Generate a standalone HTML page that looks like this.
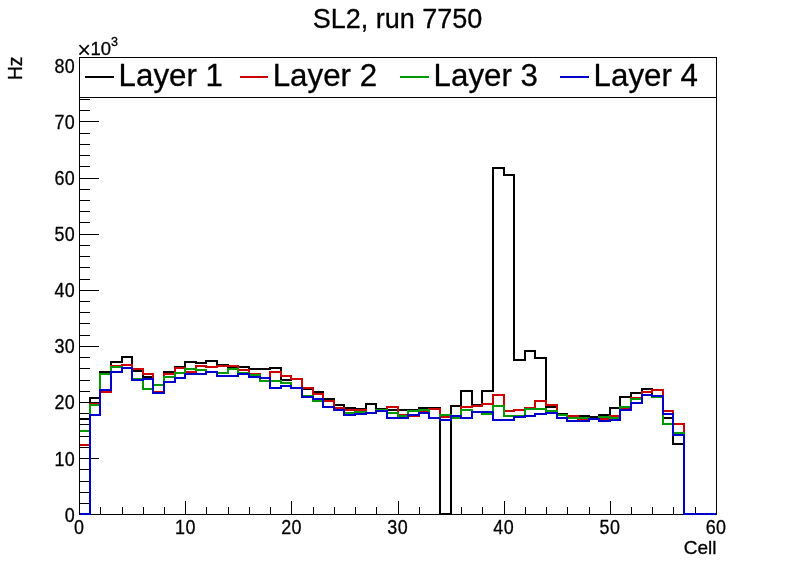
<!DOCTYPE html>
<html><head><meta charset="utf-8"><title>SL2, run 7750</title>
<style>
html,body{margin:0;padding:0;background:#fff;}
svg{display:block;font-family:"Liberation Sans",sans-serif;fill:#000;}
text{stroke:#000;stroke-width:0.3px;}
</style></head>
<body>
<svg width="796" height="572" viewBox="0 0 796 572">
<rect x="0" y="0" width="796" height="572" fill="#ffffff"/>
<g shape-rendering="crispEdges" stroke="#000" stroke-width="1">
<line x1="79" y1="514.5" x2="717" y2="514.5"/>
<line x1="80" y1="514.5" x2="99" y2="514.5"/>
<line x1="80" y1="503.5" x2="90" y2="503.5"/>
<line x1="80" y1="492.5" x2="90" y2="492.5"/>
<line x1="80" y1="481.5" x2="90" y2="481.5"/>
<line x1="80" y1="469.5" x2="90" y2="469.5"/>
<line x1="80" y1="458.5" x2="99" y2="458.5"/>
<line x1="80" y1="447.5" x2="90" y2="447.5"/>
<line x1="80" y1="436.5" x2="90" y2="436.5"/>
<line x1="80" y1="424.5" x2="90" y2="424.5"/>
<line x1="80" y1="413.5" x2="90" y2="413.5"/>
<line x1="80" y1="402.5" x2="99" y2="402.5"/>
<line x1="80" y1="391.5" x2="90" y2="391.5"/>
<line x1="80" y1="380.5" x2="90" y2="380.5"/>
<line x1="80" y1="368.5" x2="90" y2="368.5"/>
<line x1="80" y1="357.5" x2="90" y2="357.5"/>
<line x1="80" y1="346.5" x2="99" y2="346.5"/>
<line x1="80" y1="335.5" x2="90" y2="335.5"/>
<line x1="80" y1="323.5" x2="90" y2="323.5"/>
<line x1="80" y1="312.5" x2="90" y2="312.5"/>
<line x1="80" y1="301.5" x2="90" y2="301.5"/>
<line x1="80" y1="290.5" x2="99" y2="290.5"/>
<line x1="80" y1="279.5" x2="90" y2="279.5"/>
<line x1="80" y1="267.5" x2="90" y2="267.5"/>
<line x1="80" y1="256.5" x2="90" y2="256.5"/>
<line x1="80" y1="245.5" x2="90" y2="245.5"/>
<line x1="80" y1="234.5" x2="99" y2="234.5"/>
<line x1="80" y1="222.5" x2="90" y2="222.5"/>
<line x1="80" y1="211.5" x2="90" y2="211.5"/>
<line x1="80" y1="200.5" x2="90" y2="200.5"/>
<line x1="80" y1="189.5" x2="90" y2="189.5"/>
<line x1="80" y1="178.5" x2="99" y2="178.5"/>
<line x1="80" y1="166.5" x2="90" y2="166.5"/>
<line x1="80" y1="155.5" x2="90" y2="155.5"/>
<line x1="80" y1="144.5" x2="90" y2="144.5"/>
<line x1="80" y1="133.5" x2="90" y2="133.5"/>
<line x1="80" y1="121.5" x2="99" y2="121.5"/>
<line x1="80" y1="110.5" x2="90" y2="110.5"/>
<line x1="80" y1="99.5" x2="90" y2="99.5"/>
<line x1="80" y1="88.5" x2="90" y2="88.5"/>
<line x1="80" y1="77.5" x2="90" y2="77.5"/>
<line x1="80" y1="65.5" x2="99" y2="65.5"/>
<line x1="79.5" y1="514" x2="79.5" y2="501"/>
<line x1="100.5" y1="514" x2="100.5" y2="507"/>
<line x1="122.5" y1="514" x2="122.5" y2="507"/>
<line x1="143.5" y1="514" x2="143.5" y2="507"/>
<line x1="164.5" y1="514" x2="164.5" y2="507"/>
<line x1="185.5" y1="514" x2="185.5" y2="501"/>
<line x1="206.5" y1="514" x2="206.5" y2="507"/>
<line x1="228.5" y1="514" x2="228.5" y2="507"/>
<line x1="249.5" y1="514" x2="249.5" y2="507"/>
<line x1="270.5" y1="514" x2="270.5" y2="507"/>
<line x1="291.5" y1="514" x2="291.5" y2="501"/>
<line x1="313.5" y1="514" x2="313.5" y2="507"/>
<line x1="334.5" y1="514" x2="334.5" y2="507"/>
<line x1="355.5" y1="514" x2="355.5" y2="507"/>
<line x1="376.5" y1="514" x2="376.5" y2="507"/>
<line x1="398.5" y1="514" x2="398.5" y2="501"/>
<line x1="419.5" y1="514" x2="419.5" y2="507"/>
<line x1="440.5" y1="514" x2="440.5" y2="507"/>
<line x1="461.5" y1="514" x2="461.5" y2="507"/>
<line x1="482.5" y1="514" x2="482.5" y2="507"/>
<line x1="504.5" y1="514" x2="504.5" y2="501"/>
<line x1="525.5" y1="514" x2="525.5" y2="507"/>
<line x1="546.5" y1="514" x2="546.5" y2="507"/>
<line x1="567.5" y1="514" x2="567.5" y2="507"/>
<line x1="589.5" y1="514" x2="589.5" y2="507"/>
<line x1="610.5" y1="514" x2="610.5" y2="501"/>
<line x1="631.5" y1="514" x2="631.5" y2="507"/>
<line x1="652.5" y1="514" x2="652.5" y2="507"/>
<line x1="673.5" y1="514" x2="673.5" y2="507"/>
<line x1="695.5" y1="514" x2="695.5" y2="507"/>
<line x1="716.5" y1="514" x2="716.5" y2="501"/>
</g>
<g shape-rendering="crispEdges">
<polyline points="79,419 90,419 90,398 100,398 100,372 111,372 111,362 122,362 122,357 132,357 132,371 143,371 143,377 153,377 153,392 164,392 164,372 175,372 175,367 185,367 185,362 196,362 196,363 206,363 206,361 217,361 217,365 228,365 228,367 238,367 238,367 249,367 249,369 260,369 260,369 270,369 270,368 281,368 281,380 291,380 291,379 302,379 302,389 313,389 313,392 323,392 323,399 334,399 334,405 344,405 344,408 355,408 355,409 366,409 366,404 376,404 376,409 387,409 387,410 398,410 398,410 408,410 408,410 419,410 419,408 429,408 429,408 440,408 440,514 451,514 451,406 461,406 461,391 472,391 472,405 482,405 482,391 493,391 493,168 504,168 504,175 514,175 514,360 525,360 525,351 535,351 535,358 546,358 546,407 557,407 557,414 567,414 567,416 578,416 578,416 589,416 589,417 599,417 599,415 610,415 610,408 620,408 620,397 631,397 631,393 642,393 642,389 652,389 652,396 663,396 663,418 673,418 673,444 684,444 684,514 695,514 695,514 705,514 705,514 716,514" fill="none" stroke="#000000" stroke-width="2" stroke-linejoin="miter" stroke-linecap="butt"/>
<polyline points="79,445 90,445 90,404 100,404 100,392 111,392 111,366 122,366 122,365 132,365 132,369 143,369 143,374 153,374 153,392 164,392 164,374 175,374 175,368 185,368 185,372 196,372 196,366 206,366 206,367 217,367 217,366 228,366 228,366 238,366 238,370 249,370 249,374 260,374 260,378 270,378 270,372 281,372 281,376 291,376 291,379 302,379 302,388 313,388 313,394 323,394 323,401 334,401 334,408 344,408 344,410 355,410 355,410 366,410 366,413 376,413 376,410 387,410 387,407 398,407 398,415 408,415 408,416 419,416 419,411 429,411 429,409 440,409 440,417 451,417 451,417 461,417 461,407 472,407 472,406 482,406 482,404 493,404 493,395 504,395 504,411 514,411 514,410 525,410 525,408 535,408 535,401 546,401 546,405 557,405 557,415 567,415 567,416 578,416 578,419 589,419 589,419 599,419 599,419 610,419 610,416 620,416 620,408 631,408 631,398 642,398 642,392 652,392 652,390 663,390 663,411 673,411 673,424 684,424 684,514 695,514 695,514 705,514 705,514 716,514" fill="none" stroke="#cc0000" stroke-width="2" stroke-linejoin="miter" stroke-linecap="butt"/>
<polyline points="79,431 90,431 90,405 100,405 100,374 111,374 111,367 122,367 122,368 132,368 132,379 143,379 143,389 153,389 153,385 164,385 164,377 175,377 175,373 185,373 185,369 196,369 196,370 206,370 206,372 217,372 217,373 228,373 228,369 238,369 238,373 249,373 249,375 260,375 260,381 270,381 270,381 281,381 281,383 291,383 291,388 302,388 302,396 313,396 313,401 323,401 323,407 334,407 334,410 344,410 344,413 355,413 355,412 366,412 366,413 376,413 376,410 387,410 387,413 398,413 398,416 408,416 408,411 419,411 419,410 429,410 429,418 440,418 440,415 451,415 451,418 461,418 461,410 472,410 472,412 482,412 482,414 493,414 493,406 504,406 504,416 514,416 514,416 525,416 525,409 535,409 535,409 546,409 546,411 557,411 557,415 567,415 567,418 578,418 578,418 589,418 589,419 599,419 599,417 610,417 610,418 620,418 620,407 631,407 631,399 642,399 642,395 652,395 652,397 663,397 663,424 673,424 673,433 684,433 684,514 695,514 695,514 705,514 705,514 716,514" fill="none" stroke="#009900" stroke-width="2" stroke-linejoin="miter" stroke-linecap="butt"/>
<polyline points="79,514 90,514 90,415 100,415 100,390 111,390 111,372 122,372 122,368 132,368 132,380 143,380 143,379 153,379 153,393 164,393 164,382 175,382 175,378 185,378 185,374 196,374 196,374 206,374 206,372 217,372 217,376 228,376 228,376 238,376 238,374 249,374 249,377 260,377 260,378 270,378 270,388 281,388 281,386 291,386 291,388 302,388 302,397 313,397 313,399 323,399 323,407 334,407 334,410 344,410 344,415 355,415 355,414 366,414 366,413 376,413 376,411 387,411 387,418 398,418 398,418 408,418 408,415 419,415 419,413 429,413 429,418 440,418 440,420 451,420 451,416 461,416 461,418 472,418 472,412 482,412 482,412 493,412 493,420 504,420 504,420 514,420 514,417 525,417 525,416 535,416 535,414 546,414 546,413 557,413 557,418 567,418 567,421 578,421 578,421 589,421 589,419 599,419 599,421 610,421 610,420 620,420 620,410 631,410 631,403 642,403 642,395 652,395 652,396 663,396 663,414 673,414 673,435 684,435 684,514 695,514 695,514 705,514 705,514 716,514" fill="none" stroke="#0000cc" stroke-width="2" stroke-linejoin="miter" stroke-linecap="butt"/>
</g>
<g shape-rendering="crispEdges" stroke="#000" stroke-width="1" fill="none">
<line x1="79.5" y1="57" x2="79.5" y2="515"/>
<line x1="716.5" y1="57" x2="716.5" y2="515"/>
<line x1="79" y1="57.5" x2="717" y2="57.5"/>
</g>
<g shape-rendering="crispEdges">
<rect x="79.5" y="57.5" width="637" height="40" fill="#ffffff" stroke="#000" stroke-width="1"/>
<line x1="85" y1="77" x2="114" y2="77" stroke="#000000" stroke-width="2"/>
<text x="118.6" y="86" font-size="31.3px">Layer 1</text>
<line x1="240" y1="77" x2="268" y2="77" stroke="#cc0000" stroke-width="2"/>
<text x="272.7" y="86" font-size="31.3px">Layer 2</text>
<line x1="400" y1="77" x2="429" y2="77" stroke="#009900" stroke-width="2"/>
<text x="433.6" y="86" font-size="31.3px">Layer 3</text>
<line x1="560" y1="77" x2="589" y2="77" stroke="#0000cc" stroke-width="2"/>
<text x="593.6" y="86" font-size="31.3px">Layer 4</text>

</g>
<g font-size="19.5px" letter-spacing="0.5px">
<text transform="translate(75.25,521.6) scale(0.92,1)" text-anchor="end">0</text>
<text transform="translate(75.25,465.5) scale(0.92,1)" text-anchor="end">10</text>
<text transform="translate(75.25,409.3) scale(0.92,1)" text-anchor="end">20</text>
<text transform="translate(75.25,353.2) scale(0.92,1)" text-anchor="end">30</text>
<text transform="translate(75.25,297.1) scale(0.92,1)" text-anchor="end">40</text>
<text transform="translate(75.25,241.0) scale(0.92,1)" text-anchor="end">50</text>
<text transform="translate(75.25,184.8) scale(0.92,1)" text-anchor="end">60</text>
<text transform="translate(75.25,128.7) scale(0.92,1)" text-anchor="end">70</text>
<text transform="translate(75.25,72.6) scale(0.92,1)" text-anchor="end">80</text>
<text transform="translate(79.3,533.8) scale(0.92,1)" text-anchor="middle">0</text>
<text transform="translate(185.4,533.8) scale(0.92,1)" text-anchor="middle">10</text>
<text transform="translate(291.6,533.8) scale(0.92,1)" text-anchor="middle">20</text>
<text transform="translate(397.7,533.8) scale(0.92,1)" text-anchor="middle">30</text>
<text transform="translate(503.8,533.8) scale(0.92,1)" text-anchor="middle">40</text>
<text transform="translate(610.0,533.8) scale(0.92,1)" text-anchor="middle">50</text>
<text transform="translate(716.1,533.8) scale(0.92,1)" text-anchor="middle">60</text>
</g>
<text x="716.4" y="553.9" text-anchor="end" font-size="19px">Cell</text>
<text transform="translate(22,80.1) rotate(-90)" font-size="19.3px">Hz</text>
<text x="77.3" y="57.8" font-size="23.5px" style="stroke:none">×</text><text x="90.5" y="54.8" font-size="18.5px">10</text><text x="111" y="45.5" font-size="12.5px">3</text>
<text x="397.5" y="27.6" text-anchor="middle" font-size="27px">SL2, run 7750</text>
</svg>
</body></html>
